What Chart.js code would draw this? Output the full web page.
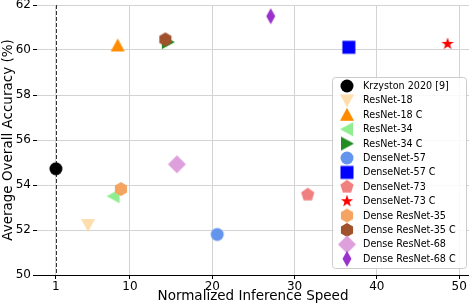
<!DOCTYPE html>
<html>
<head>
<meta charset="utf-8">
<script src="https://cdn.jsdelivr.net/npm/chart.js@4.4.0/dist/chart.umd.min.js"></script>
<style>
  html, body { margin: 0; padding: 0; background: #fff; }
  #wrap { width: 469px; height: 305px; }
</style>
</head>
<body>
<div id="wrap"><canvas id="speedChart" width="469" height="305"></canvas></div>
<script>
const models = ['Krzyston 2020 [9]', 'ResNet-18', 'ResNet-18 C', 'ResNet-34', 'ResNet-34 C',
    'DenseNet-57', 'DenseNet-57 C', 'DenseNet-73', 'DenseNet-73 C',
    'Dense ResNet-35', 'Dense ResNet-35 C', 'Dense ResNet-68', 'Dense ResNet-68 C'];
const speeds = [1, 4.9, 8.5, 8.0, 14.6, 20.6, 36.6, 31.6, 48.6, 8.9, 14.3, 15.7, 27.1];
const accuracies = [54.72, 52.22, 60.2, 53.5, 60.35, 51.8, 60.12, 53.57, 60.27, 53.82, 60.47, 54.92, 61.5];
const xTicks = [1, 10, 20, 30, 40, 50];
const yTicks = [50, 52, 54, 56, 58, 60, 62];

const colors = ['#000000', '#ffdead', '#ff8c00', '#90ee90', '#228b22', '#6495ed', '#0000ff',
    '#f08080', '#ff0000', '#f4a460', '#a0522d', '#dda0dd', '#9932cc'];
const shapes = ['circle', 'tdown', 'tup', 'tleft', 'tright', 'circle', 'square',
    'pentagon', 'star', 'hexagon', 'hexagon', 'diamond', 'thin'];

const FONT = "'DejaVu Sans', sans-serif";
const noPad = () => ({ left: 0, top: 0, right: 0, bottom: 0 });

// marker images, drawn once and handed to chart.js as pointStyle
function makeMarker(shape, color) {
    const c = document.createElement('canvas');
    c.width = 20; c.height = 20;
    const g = c.getContext('2d');
    g.fillStyle = color;
    g.translate(10, 10);
    const poly = (pts) => {
        g.beginPath();
        pts.forEach((p, i) => i ? g.lineTo(p[0], p[1]) : g.moveTo(p[0], p[1]));
        g.closePath();
        g.fill();
    };
    const ngon = (n, r, rot) => {
        const pts = [];
        for (let i = 0; i < n; i++) {
            const a = rot + i * 2 * Math.PI / n;
            pts.push([r * Math.sin(a), -r * Math.cos(a)]);
        }
        poly(pts);
    };
    if (shape === 'circle') {
        g.beginPath(); g.arc(0, 0, 6.5, 0, Math.PI * 2); g.fill();
    } else if (shape === 'tup') {
        poly([[0, -7], [7, 6], [-7, 6]]);
    } else if (shape === 'tdown') {
        poly([[0, 7], [7, -6], [-7, -6]]);
    } else if (shape === 'tleft') {
        poly([[-7, 0], [6, -7], [6, 7]]);
    } else if (shape === 'tright') {
        poly([[7, 0], [-6, -7], [-6, 7]]);
    } else if (shape === 'square') {
        g.fillRect(-6.5, -6.5, 13, 13);
    } else if (shape === 'pentagon') {
        ngon(5, 7, 0);
    } else if (shape === 'hexagon') {
        ngon(6, 7, 0);
    } else if (shape === 'diamond') {
        poly([[0, -9], [9, 0], [0, 9], [-9, 0]]);
    } else if (shape === 'thin') {
        poly([[0, -8], [4.5, 0], [0, 8], [-4.5, 0]]);
    } else if (shape === 'star') {
        const pts = [];
        for (let i = 0; i < 10; i++) {
            const r = i % 2 ? 2.6 : 6.5;
            const a = i * Math.PI / 5;
            pts.push([r * Math.sin(a), -r * Math.cos(a)]);
        }
        poly(pts);
    }
    return c;
}

const markers = shapes.map((s, i) => makeMarker(s, colors[i]));

const datasets = models.map((m, i) => ({
    label: m,
    data: [{ x: speeds[i], y: accuracies[i] }],
    pointStyle: markers[i],
    pointRadius: 7,
    pointHoverRadius: 7,
    backgroundColor: colors[i],
    borderColor: colors[i],
    order: models.length - i
}));

// dashed line at x = 1 (the reference speed)
const refLine = {
    id: 'refLine',
    beforeDatasetsDraw(chart) {
        const { ctx, chartArea, scales } = chart;
        const x = Math.round(scales.x.getPixelForValue(1)) + 0.5;
        ctx.save();
        ctx.strokeStyle = '#333';
        ctx.lineWidth = 1;
        ctx.setLineDash([4, 2]);
        ctx.beginPath();
        ctx.moveTo(x, chartArea.top);
        ctx.lineTo(x, chartArea.bottom);
        ctx.stroke();
        ctx.restore();
    }
};

// matplotlib style legend inside the plot
const boxLegend = {
    id: 'boxLegend',
    afterDraw(chart) {
        const ctx = chart.ctx;
        const left = 332, top = 77, w = 134, h = 191, rowH = 14.4;
        ctx.save();
        ctx.fillStyle = 'rgba(255,255,255,0.85)';
        ctx.strokeStyle = '#cccccc';
        ctx.lineWidth = 1;
        ctx.beginPath();
        ctx.roundRect(left + 0.5, top + 0.5, w, h, 3);
        ctx.fill();
        ctx.stroke();
        ctx.font = '9.6px ' + FONT;
        ctx.textBaseline = 'middle';
        ctx.fillStyle = '#000';
        models.forEach((m, i) => {
            const y = top + 9 + i * rowH;
            ctx.drawImage(markers[i], 347 - 10, y - 10);
            ctx.fillText(m, 363, y + 0.5);
        });
        ctx.restore();
    }
};

new Chart(document.getElementById('speedChart'), {
    type: 'scatter',
    data: { datasets: datasets },
    plugins: [refLine, boxLegend],
    options: {
        responsive: false,
        animation: false,
        events: [],
        layout: { autoPadding: false, padding: { top: 5, right: 0, left: 0, bottom: 0 } },
        plugins: { legend: { display: false }, tooltip: { enabled: false } },
        scales: {
            x: {
                type: 'linear',
                min: -1.3,
                max: 51.2,
                afterBuildTicks: (s) => { s.ticks = xTicks.map(v => ({ value: v })); },
                afterFit: (s) => { s.height = 30; s.getPadding = noPad; },
                grid: { color: '#d3d3d3', tickColor: '#000', tickLength: 4 },
                border: { color: '#000', width: 1 },
                ticks: { color: '#000', font: { family: FONT, size: 12 }, padding: 1, maxRotation: 0 },
                title: { display: true, text: 'Normalized Inference Speed', color: '#000',
                    font: { family: FONT, size: 13.5 }, padding: { top: 0, bottom: 0 } }
            },
            y: {
                min: 50,
                max: 62,
                afterBuildTicks: (s) => { s.ticks = yTicks.map(v => ({ value: v })); },
                afterFit: (s) => { s.width = 37; s.getPadding = noPad; },
                grid: { color: '#d3d3d3', tickColor: '#000', tickLength: 4 },
                border: { display: false },
                ticks: { color: '#000', font: { family: FONT, size: 12 }, padding: 2 },
                title: { display: true, text: 'Average Overall Accuracy (%)', color: '#000',
                    font: { family: FONT, size: 13.5 }, padding: { top: 0, bottom: 2 } }
            }
        }
    }
});
</script>
</body>
</html>
